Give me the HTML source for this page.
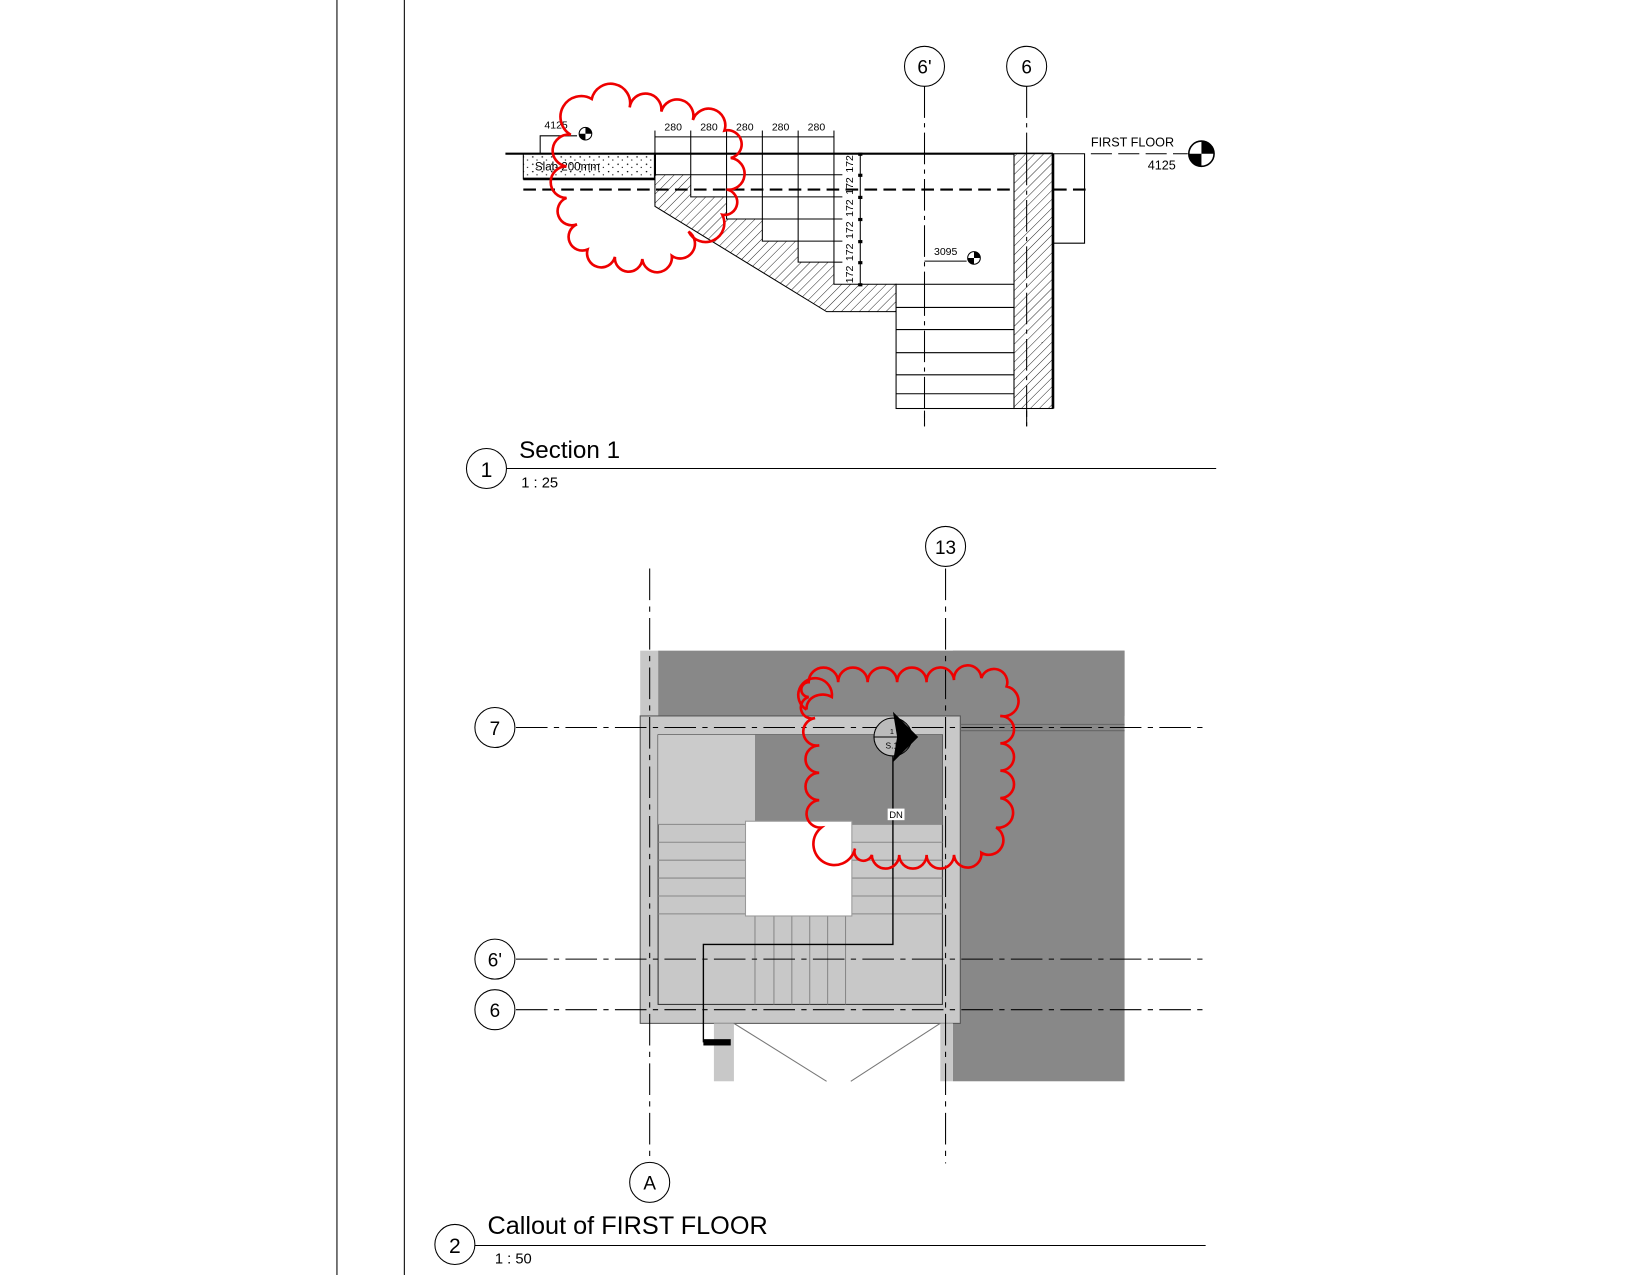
<!DOCTYPE html>
<html><head><meta charset="utf-8"><style>
html,body{margin:0;padding:0;background:#fff;}
svg{display:block;}
text{font-family:"Liberation Sans",Arial,sans-serif;}
</style></head><body>
<svg width="1650" height="1275" viewBox="0 0 1567 1211" preserveAspectRatio="none" xmlns="http://www.w3.org/2000/svg">
<defs>
<pattern id="hatch" width="6" height="6" patternUnits="userSpaceOnUse" patternTransform="rotate(45)">
<rect width="6" height="6" fill="#fff"/><line x1="0" y1="0" x2="0" y2="6" stroke="#000" stroke-width="0.8"/>
</pattern>
<pattern id="dots" width="9" height="7" patternUnits="userSpaceOnUse">
<rect width="9" height="7" fill="#fff"/><circle cx="2" cy="2" r="0.7" fill="#000"/><circle cx="6" cy="5" r="0.6" fill="#000"/>
</pattern>
</defs>
<rect width="1567" height="1211" fill="#fff"/>
<line x1="320" y1="0" x2="320" y2="1211" stroke="#000" stroke-width="1"/>
<line x1="384" y1="0" x2="384" y2="1211" stroke="#000" stroke-width="1"/>

<g stroke="#000" fill="none">
<line x1="878" y1="82" x2="878" y2="405" stroke-dasharray="30,5,4,5"/>
<line x1="975" y1="82" x2="975" y2="405" stroke-dasharray="30,5,4,5"/>
<circle cx="878" cy="63" r="19" fill="#fff"/>
<circle cx="975" cy="63" r="19" fill="#fff"/>
</g>
<text x="878" y="70" font-size="18" text-anchor="middle">6'</text>
<text x="975" y="70" font-size="18" text-anchor="middle">6</text>

<rect x="497" y="146" width="125" height="24" fill="url(#dots)" stroke="#000"/>
<line x1="497" y1="170" x2="622" y2="170" stroke="#000" stroke-width="2.5"/>
<line x1="622" y1="146" x2="622" y2="170" stroke="#000" stroke-width="2"/>
<text x="508" y="162" font-size="11">Slab 200mm</text>
<line x1="480" y1="146" x2="1000" y2="146" stroke="#000" stroke-width="2"/>

<polygon points="622,166 656,166 656,187 690,187 690,208 724,208 724,229 758,229 758,249 792,249 792,270 851,270 851,296 785,296 622,196" fill="url(#hatch)" stroke="#000"/>
<g stroke="#000">
<line x1="656" y1="146" x2="656" y2="166"/><line x1="690" y1="146" x2="690" y2="187"/><line x1="724" y1="146" x2="724" y2="208"/><line x1="758" y1="146" x2="758" y2="229"/><line x1="792" y1="146" x2="792" y2="249"/>
<line x1="656" y1="166" x2="800" y2="166"/><line x1="690" y1="187" x2="800" y2="187"/><line x1="724" y1="208" x2="800" y2="208"/><line x1="758" y1="229" x2="800" y2="229"/><line x1="792" y1="249" x2="800" y2="249"/>
<line x1="817" y1="146" x2="817" y2="270"/>
</g>
<g font-size="10" fill="#000">
<text transform="translate(810,164) rotate(-90)">172</text>
<text transform="translate(810,185) rotate(-90)">172</text>
<text transform="translate(810,206) rotate(-90)">172</text>
<text transform="translate(810,227) rotate(-90)">172</text>
<text transform="translate(810,248) rotate(-90)">172</text>
<text transform="translate(810,269) rotate(-90)">172</text>
</g>
<g fill="#000"><rect x="815" y="145" width="4" height="3"/><rect x="815" y="165" width="4" height="3"/><rect x="815" y="186" width="4" height="3"/><rect x="815" y="207" width="4" height="3"/><rect x="815" y="228" width="4" height="3"/><rect x="815" y="248" width="4" height="3"/><rect x="815" y="269" width="4" height="3"/></g>
<g stroke="#000"><line x1="622" y1="130" x2="792" y2="130"/>
<line x1="622" y1="124" x2="622" y2="146"/><line x1="656" y1="124" x2="656" y2="146"/><line x1="690" y1="124" x2="690" y2="146"/><line x1="724" y1="124" x2="724" y2="146"/><line x1="758" y1="124" x2="758" y2="146"/><line x1="792" y1="124" x2="792" y2="146"/></g>
<g font-size="10"><text x="631" y="124">280</text><text x="665" y="124">280</text><text x="699" y="124">280</text><text x="733" y="124">280</text><text x="767" y="124">280</text></g>
<line x1="497" y1="180" x2="1032" y2="180" stroke="#000" stroke-width="2" stroke-dasharray="12,6"/>
<rect x="851" y="270" width="112" height="118" fill="#fff" stroke="#000"/>
<g stroke="#000"><line x1="851" y1="292" x2="963" y2="292"/><line x1="851" y1="313" x2="963" y2="313"/><line x1="851" y1="335" x2="963" y2="335"/><line x1="851" y1="356" x2="963" y2="356"/><line x1="851" y1="374" x2="963" y2="374"/></g>
<line x1="878" y1="270" x2="878" y2="405" stroke="#000" stroke-dasharray="30,5,4,5"/>
<rect x="963" y="146" width="37" height="242" fill="url(#hatch)" stroke="#000"/>
<line x1="1000" y1="146" x2="1000" y2="388" stroke="#000" stroke-width="2.5"/>
<line x1="975" y1="146" x2="975" y2="405" stroke="#000" stroke-dasharray="30,5,4,5"/>
<polyline points="1000,146 1030,146 1030,231 1000,231" fill="none" stroke="#000"/>
<line x1="1036" y1="146" x2="1128" y2="146" stroke="#000" stroke-dasharray="20,6"/>
<text x="1036" y="139" font-size="12">FIRST FLOOR</text>
<text x="1090" y="161" font-size="12">4125</text>
<circle cx="1141" cy="146" r="12" fill="#fff" stroke="#000" stroke-width="1.5"/>
<path d="M1141,146 L1141,134 A12,12 0 0 1 1153,146 Z M1141,146 L1141,158 A12,12 0 0 1 1129,146 Z" fill="#000"/>
<text x="517" y="122" font-size="10">4125</text>
<polyline points="513,146 513,129 548,129" fill="none" stroke="#000"/>
<circle cx="556" cy="127" r="6" fill="#fff" stroke="#000"/>
<path d="M556,127 L556,121 A6,6 0 0 1 562,127 Z M556,127 L556,133 A6,6 0 0 1 550,127 Z" fill="#000"/>
<text x="887" y="242" font-size="10">3095</text>
<line x1="878" y1="248" x2="918" y2="248" stroke="#000"/>
<circle cx="925" cy="245" r="6" fill="#fff" stroke="#000"/>
<path d="M925,245 L925,239 A6,6 0 0 1 931,245 Z M925,245 L925,251 A6,6 0 0 1 919,245 Z" fill="#000"/>
<path d="M542,128 A1,1 0 0 1 562,94 A1,1 0 0 1 598,102 A1,1 0 0 1 628,106 A1,1 0 0 1 658,114 A1,1 0 0 1 688,124 A1,1 0 0 1 694,150 A1,1 0 0 1 690,180 A1,1 0 0 1 686,204 A1,1 0 0 1 654,220 A1,1 0 0 1 638,243 A1,1 0 0 1 610,246 A1,1 0 0 1 584,244 A1,1 0 0 1 558,237 A1,1 0 0 1 548,213 A1,1 0 0 1 538,188 A1,1 0 0 1 538,158 A1,1 0 0 1 542,128 Z" fill="none" stroke="#e00" stroke-width="2.5"/>
<circle cx="462" cy="445" r="19" fill="#fff" stroke="#000"/>
<text x="462" y="453" font-size="20" text-anchor="middle">1</text>
<line x1="481" y1="445" x2="1155" y2="445" stroke="#000"/>
<text x="493" y="435" font-size="23">Section 1</text>
<text x="495" y="463" font-size="14">1 : 25</text>

<rect x="625" y="618" width="443" height="62" fill="#888"/>
<rect x="905" y="618" width="163" height="409" fill="#888"/>
<rect x="608" y="618" width="17" height="62" fill="#c8c8c8"/>
<rect x="608" y="680" width="304" height="292" fill="#c8c8c8" stroke="#555"/>
<rect x="625" y="698" width="270" height="256" fill="#c8c8c8" stroke="#333"/>
<rect x="717" y="698" width="178" height="85" fill="#888"/>
<rect x="625" y="698" width="92" height="85" fill="#cbcbcb"/>
<g stroke="#888"><line x1="625" y1="800" x2="708" y2="800"/><line x1="625" y1="817" x2="708" y2="817"/><line x1="625" y1="834" x2="708" y2="834"/><line x1="625" y1="851" x2="708" y2="851"/><line x1="625" y1="868" x2="708" y2="868"/><line x1="625" y1="783" x2="895" y2="783"/>
<line x1="809" y1="800" x2="895" y2="800"/><line x1="809" y1="817" x2="895" y2="817"/><line x1="809" y1="834" x2="895" y2="834"/><line x1="809" y1="851" x2="895" y2="851"/><line x1="809" y1="868" x2="895" y2="868"/>
<line x1="717" y1="870" x2="717" y2="954"/><line x1="735" y1="870" x2="735" y2="954"/><line x1="752" y1="870" x2="752" y2="954"/><line x1="769" y1="870" x2="769" y2="954"/><line x1="786" y1="870" x2="786" y2="954"/><line x1="803" y1="870" x2="803" y2="954"/></g>
<rect x="708" y="780" width="101" height="90" fill="#fff" stroke="#999"/>
<rect x="678" y="972" width="19" height="55" fill="#c8c8c8"/>
<rect x="893" y="972" width="12" height="55" fill="#c8c8c8"/>
<line x1="697" y1="972" x2="785" y2="1027" stroke="#777"/>
<line x1="893" y1="972" x2="808" y2="1027" stroke="#777"/>
<line x1="912" y1="688" x2="1068" y2="688" stroke="#666"/>
<line x1="912" y1="694" x2="1068" y2="694" stroke="#666"/>
<g stroke="#000" fill="none" stroke-dasharray="30,6,5,6">
<line x1="617" y1="540" x2="617" y2="1103"/>
<line x1="898" y1="540" x2="898" y2="1105"/>
<line x1="490" y1="691" x2="1145" y2="691"/>
<line x1="490" y1="911" x2="1145" y2="911"/>
<line x1="490" y1="959" x2="1145" y2="959"/>
</g>
<g stroke="#000" fill="#fff">
<circle cx="898" cy="519" r="19"/><circle cx="617" cy="1123" r="19"/>
<circle cx="470" cy="691" r="19"/><circle cx="470" cy="911" r="19"/><circle cx="470" cy="959" r="19"/>
</g>
<g font-size="18" text-anchor="middle">
<text x="898" y="526">13</text><text x="617" y="1130">A</text>
<text x="470" y="698">7</text><text x="470" y="918">6'</text><text x="470" y="966">6</text>
</g>
<polyline points="848,718 848,897 668,897 668,990" fill="none" stroke="#000" stroke-width="1.3"/>
<rect x="668" y="987" width="26" height="6" fill="#000"/>
<circle cx="848" cy="700" r="18" fill="#bbb" stroke="#000"/>
<line x1="830" y1="700" x2="866" y2="700" stroke="#000"/>
<polygon points="848,676 872,700 848,724 852,700" fill="#000"/>
<text x="847" y="697" font-size="7" text-anchor="middle">1</text>
<text x="847" y="711" font-size="8" text-anchor="middle">S.1</text>
<rect x="843" y="768" width="16" height="11" fill="#fff"/>
<text x="851" y="777" font-size="9" text-anchor="middle">DN</text>
<path d="M768,648 A1,1 0 0 1 796,648 A1,1 0 0 1 824,648 A1,1 0 0 1 852,648 A1,1 0 0 1 880,648 A1,1 0 0 1 906,646 A1,1 0 0 1 932,644 A1,1 0 0 1 956,652 A1,1 0 0 1 950,680 A1,1 0 0 1 950,706 A1,1 0 0 1 950,732 A1,1 0 0 1 950,758 A1,1 0 0 1 946,786 A1,1 0 0 1 932,810 A1,1 0 0 1 906,812 A1,1 0 0 1 880,812 A1,1 0 0 1 854,812 A1,1 0 0 1 828,812 A1,1 0 0 1 812,806 A20,20 0 1 1 780,786 A1,1 0 0 1 778,760 A1,1 0 0 1 778,734 A1,1 0 0 1 778,708 A1,1 0 0 1 774,682 A1,1 0 0 1 768,662 A1,1 0 0 1 768,648 Z" fill="none" stroke="#e00" stroke-width="2.5"/>
<path d="M766,674 A16,16 0 1 1 790,662 C780,656 765,662 766,674" fill="none" stroke="#e00" stroke-width="2.5"/>
<circle cx="432" cy="1182" r="19" fill="#fff" stroke="#000"/>
<text x="432" y="1190" font-size="20" text-anchor="middle">2</text>
<line x1="451" y1="1183" x2="1145" y2="1183" stroke="#000"/>
<text x="463" y="1172" font-size="24">Callout of FIRST FLOOR</text>
<text x="470" y="1200" font-size="14">1 : 50</text>
</svg>
</body></html>
